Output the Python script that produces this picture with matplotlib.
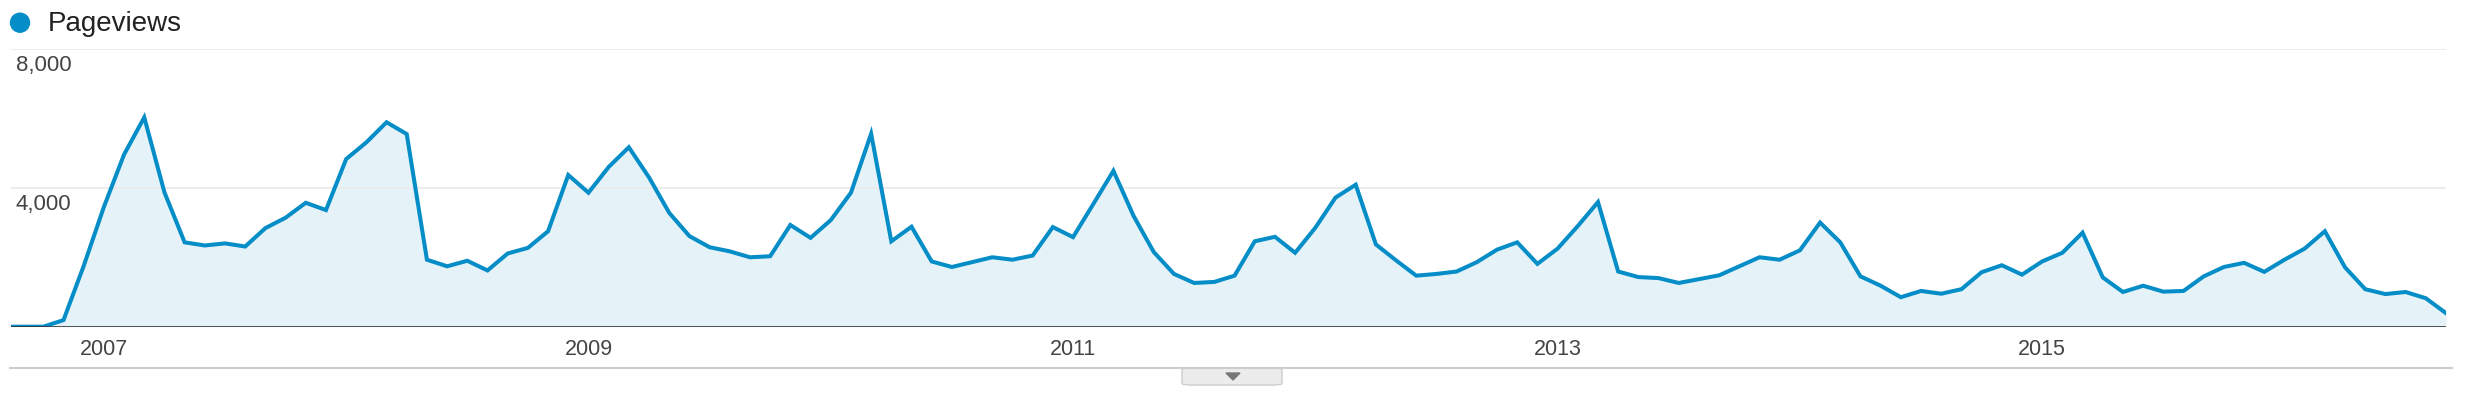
import numpy as np
import pandas as pd
import matplotlib
matplotlib.use("Agg")
import matplotlib.pyplot as plt
from matplotlib.lines import Line2D
from matplotlib.patches import Ellipse, FancyBboxPatch, Polygon

plt.rcParams['font.family'] = ['Liberation Sans', 'DejaVu Sans']

# monthly pageviews, Aug 2006 .. Sep 2016
MONTHS = pd.date_range("2006-08-01", "2016-09-01", freq="MS")
PAGEVIEWS = [
    0, 0, 0, 190, 1750,
    3450, 4960, 6030, 3870, 2430, 2340, 2400, 2310, 2840, 3140, 3570, 3360,
    4830, 5310, 5890, 5550, 1930, 1740, 1900, 1620, 2110, 2270, 2750, 4370,
    3860, 4600, 5170, 4300, 3280, 2610, 2290, 2170, 2000, 2030, 2930, 2560,
    3070, 3860, 5560, 2460, 2880, 1880, 1720, 1860, 2000, 1930, 2050, 2870,
    2580, 3530, 4490, 3190, 2150, 1520, 1260, 1290, 1470, 2460, 2590, 2130,
    2850, 3720, 4090, 2370, 1910, 1470, 1520, 1590, 1860, 2220, 2430, 1810,
    2250, 2900, 3590, 1590, 1430, 1400, 1260, 1370, 1480, 1740, 2000, 1930,
    2200, 3000, 2430, 1450, 1180, 850, 1030, 950, 1080, 1570, 1770, 1500,
    1880, 2130, 2710, 1420, 1000, 1180, 1010, 1030, 1450, 1720, 1840, 1580,
    1930, 2250, 2750, 1710, 1080, 940, 1000, 820, 390,
]
YEAR_LABELS = ["2007", "2009", "2011", "2013", "2015"]
Y_LABELS = [(4000, "4,000"), (8000, "8,000")]

LINE_COLOR = "#058dc7"
W, H = 2472, 404

fig = plt.figure(figsize=(W / 100, H / 100), dpi=100)
ax = fig.add_axes([11 / W, (H - 326.7) / H, (2446 - 11) / W, (326.7 - 49) / H])

x = np.arange(len(PAGEVIEWS))
y = np.array(PAGEVIEWS, dtype=float)
ax.fill_between(x, y, 0, color=LINE_COLOR, alpha=0.1, linewidth=0, zorder=1)
ax.plot(x, y, color=LINE_COLOR, lw=2.9, solid_joinstyle="miter", zorder=3)

ax.set_xlim(0.4, len(PAGEVIEWS) - 1)
ax.set_ylim(0, 8000)

for v, _ in Y_LABELS:
    ax.axhline(v, color="#ebebeb", lw=1.3, zorder=1.5)
ax.axhline(0, color="#333333", lw=1.9, zorder=4)

for v, txt in Y_LABELS:
    ax.annotate(txt, xy=(0, v), xycoords=("axes fraction", "data"),
                xytext=(5, -6), textcoords="offset pixels",
                ha="left", va="top", fontsize=16, color="#444444")

tick_pos = [i for i, m in enumerate(MONTHS) if m.month == 1 and str(m.year) in YEAR_LABELS]
ax.set_xticks(tick_pos)
ax.set_xticklabels(YEAR_LABELS, fontsize=15.5, color="#444444")
ax.tick_params(axis="x", length=0, pad=9)
ax.set_yticks([])
for s in ax.spines.values():
    s.set_visible(False)

# legend
fig.add_artist(Ellipse((20 / W, 1 - 22.7 / H), 19 / W, 19 / H,
                       transform=fig.transFigure, color=LINE_COLOR))
fig.text(48 / W, 1 - 31 / H, "Pageviews", fontsize=20, color="#222222",
         ha="left", va="baseline")

# bottom rule + collapse tab
fig.add_artist(Line2D([10 / W, 2452 / W], [1 - 368 / H] * 2,
                      transform=fig.transFigure, color="#cccccc", lw=1.5))
fig.add_artist(FancyBboxPatch((1182 / W, 1 - 385 / H), 100 / W, 17 / H,
                              boxstyle="round,pad=0,rounding_size=0.004",
                              transform=fig.transFigure, facecolor="#ececec",
                              edgecolor="#cccccc", lw=1))
fig.add_artist(Polygon([(1226 / W, 1 - 373 / H), (1240 / W, 1 - 373 / H),
                        (1233 / W, 1 - 380 / H)], closed=True,
                       transform=fig.transFigure, color="#777777"))

plt.savefig("out.png", dpi=100)
plt.close()
